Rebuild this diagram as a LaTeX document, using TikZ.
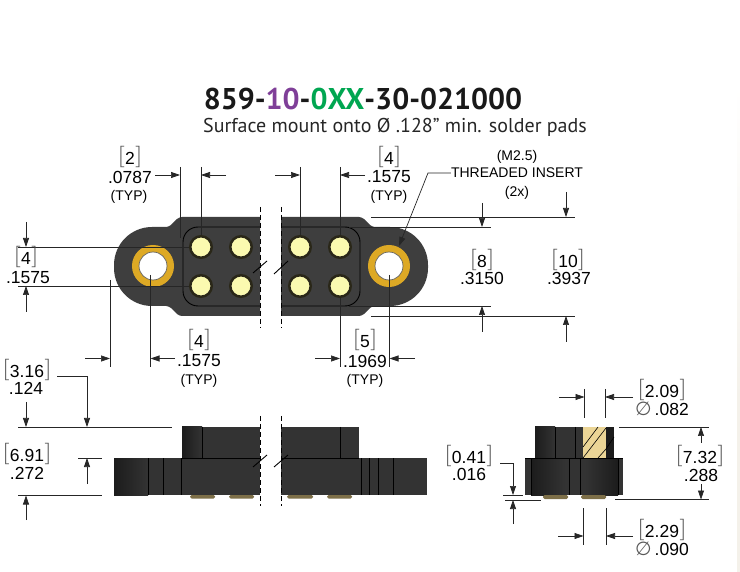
\documentclass[tikz,border=0pt]{standalone}
\usepackage{fontspec}
\setmainfont{Liberation Sans}
\newfontfamily\titlefont{PT Sans}
\newfontfamily\symfont{DejaVu Sans}
\newfontfamily\rmlight{Lato Light}
\usetikzlibrary{arrows.meta}
\definecolor{bodygray}{HTML}{3E3E3E}
\definecolor{sidegray}{HTML}{333333}
\definecolor{sidedark}{HTML}{1C1C1C}
\definecolor{pinyellow}{HTML}{FBFAB0}
\definecolor{pinrim}{HTML}{2A2718}
\definecolor{ringgold}{HTML}{DDA925}
\definecolor{pinbrown}{HTML}{7D6F48}
\definecolor{brasstan}{HTML}{EBD596}
\definecolor{partpurple}{HTML}{7F3F98}
\definecolor{partgreen}{HTML}{00A651}
\definecolor{edgecream}{HTML}{F4F1EA}
\newcommand{\bk}[1]{{\fontsize{24}{24}\selectfont\color{black!70}\rmlight[}#1{\fontsize{24}{24}\selectfont\color{black!70}\rmlight]}}
\newcommand{\dia}{{\symfont\fontsize{19}{19}\selectfont\color{black!65}∅}}
\tikzset{
  dimtext/.style={inner sep=0pt,font=\fontsize{17.5}{18}\selectfont},
  typtext/.style={inner sep=0pt,font=\fontsize{14}{14}\selectfont},
  extline/.style={line width=0.7pt,black!85},
  dimarrow/.style={line width=0.7pt,black!85,-{Triangle[length=9pt,width=6pt]}},
  breakline/.style={line width=0.8pt,dash pattern=on 5pt off 3pt},
  bodyline/.style={line width=0.9pt,black},
  holeedge/.style={line width=0.7pt,black!60},
  pinhead/.style={shape=circle,draw=pinrim,line width=2.5pt,fill=pinyellow,minimum size=21.5pt,inner sep=0pt},
  insert/.style={shape=circle,draw=ringgold,line width=7pt,fill=white,minimum size=35pt,inner sep=0pt},
  pintail/.style={fill=pinbrown,rounded corners=1.5pt}
}
\begin{document}
\begin{tikzpicture}[x=1pt,y=-1pt]
  \useasboundingbox (0,0) rectangle (740,572);
  \shade[top color=white,bottom color=edgecream] (737,85) rectangle (740,400);
  \fill[edgecream] (737,400) rectangle (740,572);
  % title
  \node[inner sep=0pt,font=\titlefont\bfseries\fontsize{30}{32}\selectfont,text=black!90] (title) at (363,99) {859-\textcolor{partpurple}{10}-\textcolor{partgreen}{0XX}-30-021000};
  \node[inner sep=0pt,font=\titlefont\fontsize{20}{22}\selectfont,text=black!85] (subtitle) at (395,127) {Surface mount onto Ø .128” min. solder pads};
  % top view
  \fill[bodygray] (260,217) [rounded corners=3pt] -- (179,217) -- (169,227) [rounded corners=38pt] -- (114,227) -- (114,306) [rounded corners=3pt] -- (169,306) -- (179,316) [sharp corners] -- (260,316) -- cycle;
  \fill[bodygray] (281,217) [rounded corners=3pt] -- (362,217) -- (372,227) [rounded corners=38pt] -- (428,227) -- (428,306) [rounded corners=3pt] -- (372,306) -- (362,316) [sharp corners] -- (281,316) -- cycle;
  \draw[bodyline,rounded corners=15pt] (260,227) -- (183,227) -- (183,306) -- (260,306);
  \draw[bodyline,rounded corners=15pt] (281,227) -- (360,227) -- (360,306) -- (281,306);
  \node[insert] (insertl) at (153,266) {};
  \node[insert] (insertr) at (389,266) {};
  \draw[holeedge] (insertl) circle (14pt);
  \draw[holeedge] (insertr) circle (14pt);
  % left and right breaks
  \draw[breakline] (260,207) -- (260,328);
  \draw[breakline] (281,207) -- (281,328);
  \draw[bodyline] (253,273) -- (267,261);
  \draw[bodyline] (274,274) -- (288,261);
  % dimensions of the top view
  \draw[extline] (18,247) -- (190,247);
  \draw[extline] (18,286) -- (190,286);
  \node[pinhead] (pina) at (201,247) {};
  \node[pinhead] (pinb) at (241,247) {};
  \node[pinhead] (pinc) at (201,286) {};
  \node[pinhead] (pind) at (241,286) {};
  \node[pinhead] (pine) at (300,247) {};
  \node[pinhead] (pinf) at (340,247) {};
  \node[pinhead] (ping) at (300,286) {};
  \node[pinhead] (pinh) at (340,286) {};
  \node[dimtext] (twomm) at (130,157) {\bk{2}};
  \node[dimtext] (twoin) at (130,177) {.0787};
  \node[typtext] (twotyp) at (129,197) {(TYP)};
  \draw[extline] (180,167) -- (180,238);
  \draw[extline] (pina.north |- 0,167) -- (pina.north);
  \draw[dimarrow] (155,175) -- (180,175);
  \draw[dimarrow] (226,175) -- (pina.north |- 0,175);
  \node[dimtext] (pitchmm) at (389,157) {\bk{4}};
  \node[dimtext] (pitchin) at (389,177) {.1575};
  \node[typtext] (pitchtyp) at (389,197) {(TYP)};
  \draw[extline] (pine.north |- 0,167) -- (pine.north);
  \draw[extline] (pinf.north |- 0,167) -- (pinf.north);
  \draw[dimarrow] (275,175) -- (pine.north |- 0,175);
  \draw[dimarrow] (365,175) -- (pinf.north |- 0,175);
  \node[dimtext] (rowmm) at (26,257) {\bk{4}};
  \node[dimtext] (rowin) at (28,278) {.1575};
  \draw[dimarrow] (26,222) -- (26,247);
  \draw[dimarrow] (26,312) -- (26,286);
  \draw[extline] (110,280) -- (110,367);
  \draw[extline] (150.5,275) -- (150.5,367);
  \draw[dimarrow] (85,358.5) -- (110,358.5);
  \draw[dimarrow] (175,358.5) -- (150.5,358.5);
  \node[dimtext] (edgemm) at (199,340) {\bk{4}};
  \node[dimtext] (edgein) at (199,361) {.1575};
  \node[typtext] (edgetyp) at (199,381) {(TYP)};
  \draw[extline] (pinh.south) -- (pinh.south |- 0,367);
  \draw[extline] (389.5,275) -- (389.5,367);
  \draw[dimarrow] (315,358.5) -- (pinh.south |- 0,358.5);
  \draw[dimarrow] (415,358.5) -- (389.5,358.5);
  \node[dimtext] (holemm) at (365,340) {\bk{5}};
  \node[dimtext] (holein) at (365,361) {.1969};
  \node[typtext] (holetyp) at (365,381) {(TYP)};
  \node[typtext] (threadm) at (517,157) {(M2.5)};
  \node[typtext] (thread) at (517,173) {THREADED INSERT};
  \node[typtext] (threadx) at (517,193) {(2x)};
  \draw[dimarrow] (thread.west) -- (428,173) -- (399,246);
  \draw[extline] (371,217) -- (575,217);
  \draw[extline] (349,227) -- (491,227);
  \draw[extline] (349,306) -- (491,306);
  \draw[extline] (371,316) -- (575,316);
  \draw[dimarrow] (482,203) -- (482,227);
  \draw[dimarrow] (482,332) -- (482,306);
  \draw[dimarrow] (566,192) -- (566,217);
  \draw[dimarrow] (566,342) -- (566,316);
  \node[dimtext] (innermm) at (482,260) {\bk{8}};
  \node[dimtext] (innerin) at (482,278) {.3150};
  \node[dimtext] (outermm) at (568,260) {\bk{10}};
  \node[dimtext] (outerin) at (569,278) {.3937};
  % front view
  \fill[sidegray] (182,427) rectangle (260,458);
  \fill[sidegray] (114,458) rectangle (260,495);
  \fill[sidegray] (281,427) rectangle (359,458);
  \fill[sidegray] (281,458) rectangle (427,495);
  \shade[left color=sidedark,right color=sidegray] (114,458) rectangle (148,495);
  \shade[left color=sidedark,right color=sidegray] (182,427) rectangle (202,458);
  \fill[pintail] (190,495) rectangle (215,498.5);
  \fill[pintail] (229,495) rectangle (254,498.5);
  \fill[pintail] (287,495) rectangle (313,498.5);
  \fill[pintail] (327,495) rectangle (352,498.5);
  \draw[bodyline] (182,458) -- (260,458);
  \draw[bodyline] (281,458) -- (359,458);
  \draw[bodyline] (202,427) -- (202,458);
  \draw[bodyline] (148,458) -- (148,495);
  \draw[bodyline] (163,458) -- (163,495);
  \draw[bodyline] (181,458) -- (181,495);
  \draw[bodyline] (340,427) -- (340,458);
  \draw[bodyline] (361,458) -- (361,495);
  \draw[bodyline] (369,458) -- (369,495);
  \draw[bodyline] (378,458) -- (378,495);
  \draw[bodyline] (393,458) -- (393,495);
  \draw[breakline] (260,416) -- (260,506);
  \draw[breakline] (281,416) -- (281,506);
  \draw[bodyline] (253,467) -- (267,455);
  \draw[bodyline] (274,467) -- (288,455);
  \node[dimtext] (uppermm) at (27,370) {\bk{3.16}};
  \node[dimtext] (upperin) at (26,388) {.124};
  \coordinate (uppertee) at (57,376);
  \draw[extline] (18,427) -- (172,427);
  \draw[dimarrow] (26,402) -- (26,427);
  \draw[dimarrow] (uppertee) -- (87,376) -- (87,427);
  \node[dimtext] (lowermm) at (27,454) {\bk{6.91}};
  \node[dimtext] (lowerin) at (27,473) {.272};
  \draw[extline] (78,458) -- (102,458);
  \draw[extline] (18,495.5) -- (102,495.5);
  \draw[dimarrow] (87,484) -- (87,458);
  \draw[dimarrow] (26,520) -- (26,495.5);
  % side view
  \fill[sidegray] (535,427) rectangle (614,458);
  \fill[sidegray] (525,458) rectangle (623,495);
  \shade[left color=sidedark,right color=sidegray] (535,427) rectangle (555,458);
  \shade[left color=sidedark,right color=sidegray] (531,458) rectangle (565,495);
  \shade[left color=sidegray,right color=sidedark] (585,458) rectangle (618,495);
  \fill[sidedark] (606,427) rectangle (614,458);
  \fill[brasstan] (583,427) rectangle (606,458);
  \fill[pintail] (543,495) rectangle (568,499);
  \fill[pintail] (581,495) rectangle (606,499);
  \draw[bodyline] (555,427) -- (555,458);
  \draw[bodyline] (575,427) -- (575,458);
  \draw[bodyline] (531,458) -- (531,495);
  \draw[bodyline] (569,458) -- (569,495);
  \draw[bodyline] (580,458) -- (580,495);
  \draw[bodyline] (618,458) -- (618,495);
  \draw[bodyline] (525,458) -- (623,458);
  \draw[line width=0.6pt] (583,447) -- (598,427);
  \draw[line width=0.6pt] (583,458) -- (606,428);
  \draw[line width=0.6pt] (598,458) -- (606,449);
  \draw[line width=0.6pt] (606,449) -- (614,437);
  \node[dimtext] (holdmm) at (662,390) {\bk{2.09}};
  \node[dimtext] (holdin) at (662,409) {\dia\,.082};
  \draw[extline] (584.5,389) -- (584.5,418);
  \draw[extline] (605,389) -- (605,418);
  \draw[dimarrow] (559,397) -- (584.5,397);
  \draw[dimarrow] (633,397) -- (605,397);
  \node[dimtext] (taildmm) at (662,530) {\bk{2.29}};
  \node[dimtext] (taildin) at (662,549) {\dia\,.090};
  \draw[extline] (583.5,508) -- (583.5,545);
  \draw[extline] (606,508) -- (606,545);
  \draw[dimarrow] (558,536) -- (583.5,536);
  \draw[dimarrow] (633,536) -- (606,536);
  \node[dimtext] (totalmm) at (700,456) {\bk{7.32}};
  \node[dimtext] (totalin) at (701,475) {.288};
  \draw[extline] (619,427) -- (709,427);
  \draw[extline] (615,499.5) -- (709,499.5);
  \draw[dimarrow] (701,443) -- (701,427);
  \draw[dimarrow] (701,484) -- (701,499.5);
  \node[dimtext] (standmm) at (469,456) {\bk{0.41}};
  \node[dimtext] (standin) at (469,474) {.016};
  \coordinate (standtee) at (500,463);
  \draw[dimarrow] (standtee) -- (513,463) -- (513,495);
  \draw[dimarrow] (513,524) -- (513,500);
  \draw[extline] (503,495.5) -- (523,495.5);
  \draw[extline] (505,500) -- (541,500);
\end{tikzpicture}
\end{document}
